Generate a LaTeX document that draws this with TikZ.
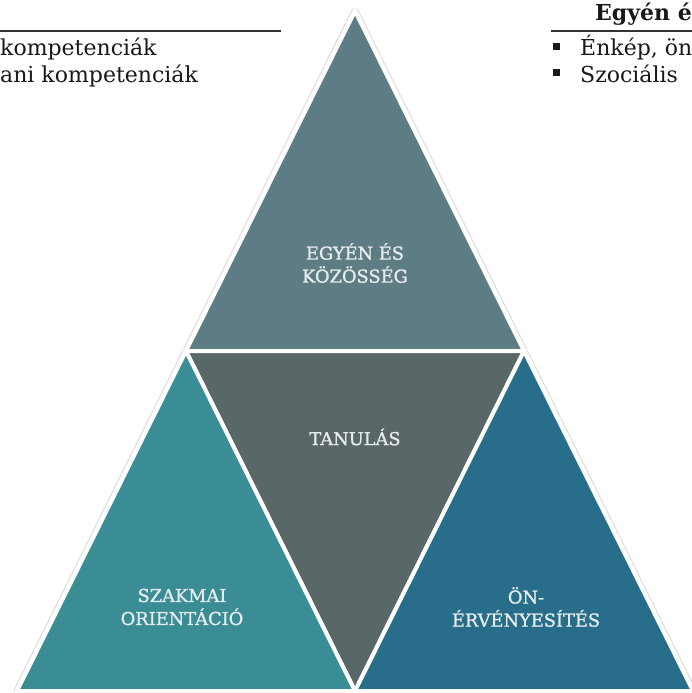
\documentclass[tikz,border=0pt]{standalone}
\usepackage{fontspec}
\setmainfont{DejaVu Serif}
\newfontfamily\labfont[FakeBold=1.2]{DejaVu Serif}
\definecolor{topc}{HTML}{5E7C84}
\definecolor{midc}{HTML}{596768}
\definecolor{blc}{HTML}{3A8C95}
\definecolor{brc}{HTML}{286E8A}
\definecolor{labc}{HTML}{E6ECEC}
\definecolor{rulec}{HTML}{333333}
\begin{document}
\begin{tikzpicture}[x=1pt,y=-1pt,
  lab/.style={text=labc, font=\labfont\fontsize{17.8}{23}\selectfont, align=center, inner sep=0pt},
  body/.style={font=\fontsize{22}{26}\selectfont, inner sep=0pt, anchor=base west, text=black!90},
  tri/.style={draw=white, line width=4pt, line join=miter},
  rulest/.style={draw=rulec, line width=1.6pt},
  bul/.style={fill=black!90, minimum size=7pt, inner sep=0pt}]
\useasboundingbox (0,0) rectangle (692,693);
\fill[white] (0,0) rectangle (692,693);
\coordinate (A) at (355,11);
\coordinate (B) at (17,691);
\coordinate (C) at (693,691);
\coordinate (AB) at (186,351);
\coordinate (AC) at (524,351);
\coordinate (BC) at (355,691);
% outer faint outline
\draw[gray!30, line width=7pt, line join=round] (A) -- (B) -- (C) -- cycle;
\draw[white, line width=5pt, line join=round] (A) -- (B) -- (C) -- cycle;
% four triangles
\filldraw[fill=topc, tri] (A) -- (AB) -- (AC) -- cycle;
\filldraw[fill=midc, tri] (AB) -- (AC) -- (BC) -- cycle;
\filldraw[fill=blc, tri] (AB) -- (B) -- (BC) -- cycle;
\filldraw[fill=brc, tri] (AC) -- (BC) -- (C) -- cycle;
% labels
\node[lab] (l1) at (355,263) {EGYÉN ÉS\\KÖZÖSSÉG};
\node[lab] (l2) at (355,437) {TANULÁS};
\node[lab] (l3) at (182,607) {SZAKMAI\\ORIENTÁCIÓ};
\node[lab] (l4) at (526,607) {ÖN-\\ÉRVÉNYESÍTÉS};
% top-left text
\coordinate (r1a) at (0,31);
\coordinate (r1b) at (281,31);
\draw[rulest] (r1a) -- (r1b);
\node[body] (t1) at (0,56) {kompetenciák};
\node[body] (t2) at (0,82) {ani kompetenciák};
% top-right text
\coordinate (r2a) at (551,31);
\coordinate (r2b) at (692,31);
\draw[rulest] (r2a) -- (r2b);
\node[body, font=\fontsize{22}{26}\selectfont\bfseries] (h) at (595,21) {Egyén é};
\node[bul] (b1) at (556.5,46.5) {};
\node[body] (t3) at (580,56) {Énkép, ön};
\node[bul] (b2) at (556.5,72.5) {};
\node[body] (t4) at (580,82) {Szociális};
\end{tikzpicture}
\end{document}
